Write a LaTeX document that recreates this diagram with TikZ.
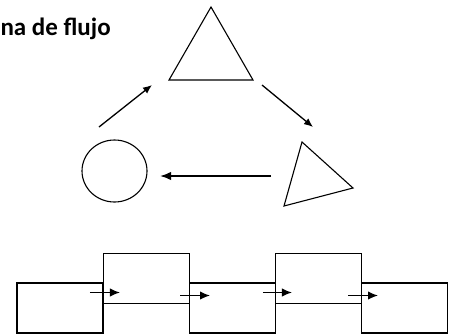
\documentclass[tikz,border=0pt]{standalone}
\usepackage{fontspec}
\setmainfont{Carlito}
\usepackage{tikz}
\usetikzlibrary{arrows.meta,shapes,calc}

\begin{document}
\begin{tikzpicture}[x=1pt,y=-1pt,line width=1.1pt,
		blk/.style={draw,rectangle,inner sep=0pt,minimum width=86pt,minimum height=50pt},
		flecha/.style={-{Latex[length=9pt,width=7.5pt]},line width=1.3pt}]
		\useasboundingbox (0,0) rectangle (449,335);
		
		% titulo
		\node[anchor=base west,inner sep=0pt,font=\bfseries\fontsize{25}{30}\selectfont] (titulo) at (0,35.5) {na de flujo};
		
		% figuras de arriba
		\draw (211,7) -- (169,80) -- (253,80) -- cycle;
		\node[draw,ellipse,inner sep=0pt,minimum width=65pt,minimum height=62pt] (circulo) at (114.5,171) {};
		\draw (302,142) -- (353,188) -- (284,206) -- cycle;
		
		\coordinate (a1) at (99,127);
		\coordinate (a2) at (152,85);
		\coordinate (b1) at (262,85);
		\coordinate (b2) at (313,127);
		\coordinate (c1) at (271,176);
		\coordinate (c2) at (160,176);
		\draw[flecha] (a1) -- (a2);
		\draw[flecha] (b1) -- (b2);
		\draw[flecha,line width=1.8pt,-{Latex[length=11pt,width=8.5pt]}] (c1) -- (c2);
		
		% bloques de abajo
		\node[blk] (k1) at (60,308) {};
		\node[blk] (k2) at (146.5,278.5) {};
		\node[blk] (k3) at (232.5,308) {};
		\node[blk] (k4) at (318.5,278.5) {};
		\node[blk] (k5) at (404.5,308) {};
		
		\tikzset{flecha/.append style={-{Latex[length=10pt,width=8.5pt]},line width=1.5pt}}
		\draw[flecha] ($(k2.west)+(-13,14)$) -- ($(k2.west)+(17,14)$);
		\draw[flecha] ($(k2.east)+(-10,17)$) -- ($(k2.east)+(20,17)$);
		\draw[flecha] ($(k4.west)+(-12,14)$) -- ($(k4.west)+(17,14)$);
		\draw[flecha] ($(k4.east)+(-14,17)$) -- ($(k4.east)+(16,17)$);
\end{tikzpicture}
\end{document}
